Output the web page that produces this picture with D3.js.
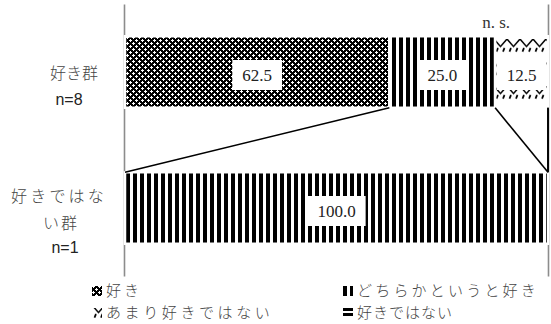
<!DOCTYPE html>
<html>
<head>
<meta charset="utf-8">
<script src="https://cdn.jsdelivr.net/npm/d3@7"></script>
<style>
  body { margin: 0; background: #fff; }
  svg { display: block; }
</style>
</head>
<body>
<div id="viz"></div>
<script>
// data
const groups = ['好き群', '好きではない群'];
const groupLines = [['好き群'], ['好きではな', 'い群']];
const groupN = ['n=8', 'n=1'];
const seriesNames = ['好き', 'どちらかというと好き', 'あまり好きではない', '好きではない'];
const likeValues = [62.5, 25.0, 12.5, 0];
const dislikeValues = [0, 100.0, 0, 0];
const sigNote = 'n. s.';

const width = 551;
const height = 324;
const jpFont = '"Noto Sans CJK JP", "Noto Sans", sans-serif';
const numFont = '"Liberation Serif", "DejaVu Serif", serif';

const rows = groups.map((g, i) => {
    const vals = i === 0 ? likeValues : dislikeValues;
    const row = { group: g };
    seriesNames.forEach((s, k) => { row[s] = vals[k]; });
    return row;
});
const stacked = d3.stack().keys(seriesNames)(rows);

const xScale = d3.scaleLinear()
    .domain([0, 100])
    .range([125, 548]);

const yScale = d3.scaleBand()
    .domain(groups)
    .range([4, 276])
    .paddingInner(0.474)
    .paddingOuter(0.237);

const svg = d3.select('#viz').append('svg')
    .attr('width', width)
    .attr('height', height)
    .style('background', '#fff');

// fill patterns
const defs = svg.append('defs');

const pCheck = defs.append('pattern').attr('id', 'pat0')
    .attr('patternUnits', 'userSpaceOnUse').attr('width', 6).attr('height', 6);
pCheck.append('rect').attr('width', 6).attr('height', 6).attr('fill', '#000');
[[1, 0, 1, 3], [0, 1, 3, 1], [4, 3, 1, 3], [3, 4, 3, 1]].forEach(r => {
    pCheck.append('rect')
        .attr('x', r[0]).attr('y', r[1]).attr('width', r[2]).attr('height', r[3])
        .attr('fill', '#fff');
});

const pVert = defs.append('pattern').attr('id', 'pat1')
    .attr('patternUnits', 'userSpaceOnUse').attr('width', 7).attr('height', 10);
pVert.append('rect').attr('width', 7).attr('height', 10).attr('fill', '#fff');
pVert.append('rect').attr('width', 4).attr('height', 10).attr('fill', '#000');

const pZig = defs.append('pattern').attr('id', 'pat2')
    .attr('patternUnits', 'userSpaceOnUse').attr('width', 13).attr('height', 23.5)
    .attr('y', 39);
pZig.append('rect').attr('width', 13).attr('height', 23.5).attr('fill', '#fff');
pZig.append('path').attr('d', 'M0,0 L6.5,7.5 L13,0')
    .attr('fill', 'none').attr('stroke', '#000').attr('stroke-width', 1.5);
pZig.append('path').attr('d', 'M4,9 L2.5,12.5 M10.5,9 L9,12.5')
    .attr('fill', 'none').attr('stroke', '#000').attr('stroke-width', 1.8);

const pHoriz = defs.append('pattern').attr('id', 'pat3')
    .attr('patternUnits', 'userSpaceOnUse').attr('width', 10).attr('height', 5);
pHoriz.append('rect').attr('width', 10).attr('height', 5).attr('fill', '#fff');
pHoriz.append('rect').attr('width', 10).attr('height', 3).attr('fill', '#000');

// axis lines (left and right)
svg.append('g')
    .attr('transform', 'translate(' + (xScale(0) - 1) + ',0)')
    .call(d3.axisLeft(yScale).tickSize(0).tickFormat(''));
svg.append('g')
    .attr('transform', 'translate(' + xScale(100) + ',0)')
    .call(d3.axisRight(yScale).tickSize(0).tickFormat(''));
svg.selectAll('.domain').attr('stroke', '#8c8c8c').attr('stroke-width', 1.6);

// bars
const layers = svg.append('g').selectAll('g').data(stacked)
    .enter().append('g')
        .attr('fill', (d, k) => 'url(#pat' + k + ')');

layers.selectAll('rect').data(d => d.filter(p => p[1] > p[0]))
    .enter().append('rect')
        .attr('x', p => xScale(p[0]))
        .attr('width', p => xScale(p[1]) - xScale(p[0]))
        .attr('y', p => yScale(p.data.group))
        .attr('height', yScale.bandwidth())
        .attr('stroke', '#fff')
        .attr('stroke-width', 2.5);

// series lines between the two bars
const g0 = groups[0], g1 = groups[1];
const seriesLines = stacked.map(layer => ({
    x1: xScale(layer[0][1]), y1: yScale(g0) + yScale.bandwidth(),
    x2: xScale(layer[1][1]), y2: yScale(g1)
}));
svg.append('g').selectAll('line').data(seriesLines)
    .enter().append('line')
        .attr('x1', d => d.x1).attr('y1', d => d.y1)
        .attr('x2', d => d.x2).attr('y2', d => d.y2)
        .attr('stroke', '#000')
        .attr('stroke-width', 1.6);

// value labels with white boxes
const labelData = [];
stacked.forEach(layer => {
    layer.forEach(p => {
        const v = p[1] - p[0];
        if (v > 0) {
            labelData.push({
                text: v.toFixed(1),
                cx: (xScale(p[0]) + xScale(p[1])) / 2,
                cy: yScale(p.data.group) + yScale.bandwidth() / 2 + 3
            });
        }
    });
});
const labels = svg.append('g').selectAll('g').data(labelData)
    .enter().append('g');
labels.append('text')
    .attr('x', d => d.cx)
    .attr('y', d => d.cy)
    .attr('dy', '0.35em')
    .attr('text-anchor', 'middle')
    .style('font-family', numFont)
    .style('font-size', '17px')
    .style('font-weight', 'normal')
    .attr('fill', '#222')
    .text(d => d.text);
labels.each(function(d) {
    const w = d3.select(this).select('text').node().getComputedTextLength();
    d3.select(this).insert('rect', 'text')
        .attr('x', d.cx - w / 2 - 10)
        .attr('y', d.cy - 15)
        .attr('width', w + 20)
        .attr('height', 30)
        .attr('fill', '#fff');
});

// significance note
svg.append('text')
    .attr('x', xScale(87.5) + 1)
    .attr('y', 28)
    .attr('text-anchor', 'middle')
    .style('font-family', numFont)
    .style('font-size', '17px')
    .style('font-weight', 'normal')
    .attr('fill', '#333')
    .text(sigNote);

// category labels
const catLayout = [
    { lines: [{ x: 74, dy: 1.5, ls: 0 }], n: { x: 69, dy: 27 } },
    { lines: [{ x: 59, dy: -11.5, ls: 3.2 }, { x: 61, dy: 15.5, ls: 2 }], n: { x: 65, dy: 39 } }
];
groups.forEach((g, i) => {
    const cy = yScale(g) + yScale.bandwidth() / 2;
    const lay = catLayout[i];
    groupLines[i].forEach((line, j) => {
        svg.append('text')
            .attr('x', lay.lines[j].x)
            .attr('y', cy + lay.lines[j].dy)
            .attr('dy', '0.35em')
            .attr('text-anchor', 'middle')
            .style('font-family', jpFont)
            .style('font-size', '16px')
            .style('font-weight', 300)
            .style('letter-spacing', lay.lines[j].ls + 'px')
            .attr('fill', '#444')
            .text(line);
    });
    svg.append('text')
        .attr('x', lay.n.x)
        .attr('y', cy + lay.n.dy)
        .attr('dy', '0.35em')
        .attr('text-anchor', 'middle')
        .style('font-family', '"Liberation Sans", sans-serif')
        .style('font-size', '16px')
        .attr('fill', '#222')
        .text(groupN[i]);
});

// legend
const legendPos = [
    { x: 92, y: 291, ls: 3 },
    { x: 343, y: 291, ls: 3.2 },
    { x: 92, y: 313, ls: 3.6 },
    { x: 343, y: 313, ls: 1 }
];
const legend = svg.append('g').selectAll('g').data(seriesNames)
    .enter().append('g')
        .attr('transform', (d, k) => 'translate(' + legendPos[k].x + ',' + legendPos[k].y + ')');
legend.append('rect')
    .attr('x', 0).attr('y', -5)
    .attr('width', 10).attr('height', 10)
    .attr('fill', (d, k) => 'url(#pat' + k + ')');
legend.append('text')
    .attr('x', 14)
    .attr('dy', '0.35em')
    .style('font-family', jpFont)
    .style('font-size', '15px')
    .style('font-weight', 300)
    .style('letter-spacing', (d, k) => legendPos[k].ls + 'px')
    .attr('fill', '#444')
    .text(d => d);
</script>
</body>
</html>
